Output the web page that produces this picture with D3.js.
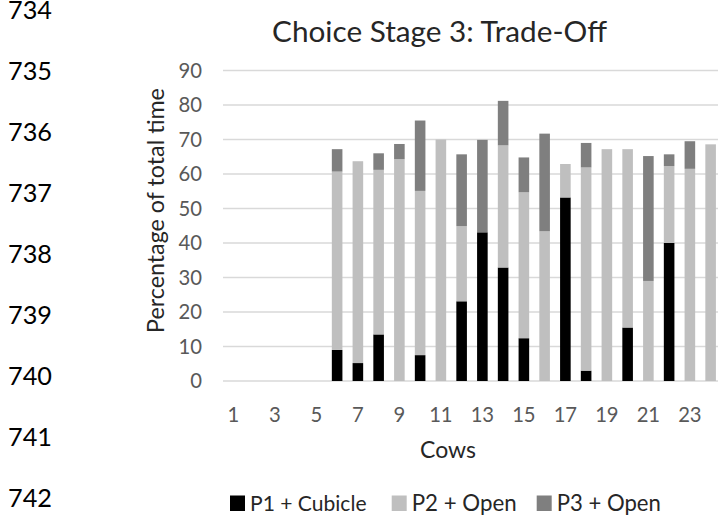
<!DOCTYPE html>
<html>
<head>
<meta charset="utf-8">
<script src="https://cdn.jsdelivr.net/npm/d3@7"></script>
<style>
  html, body { margin: 0; padding: 0; background: #fff; }
  svg { display: block; font-family: Lato, "Open Sans", sans-serif; }
</style>
</head>
<body>
<svg id="chart" width="718" height="520"></svg>
<script>
// ---- data ----
const cows = d3.range(1, 25);
const p1Cubicle = [0,0,0,0,0, 9.0, 5.2, 13.5, 0, 7.5, 0, 23.1, 43.1, 32.9, 12.4, 0, 53.2, 3.0, 0, 15.5, 0, 40.0, 0, 0];
const p2Open    = [0,0,0,0,0, 51.7, 58.5, 47.7, 64.3, 47.6, 70.0, 21.8, 0, 35.4, 42.3, 43.4, 9.7, 58.9, 67.2, 51.7, 29.0, 22.3, 61.5, 68.6];
const p3Open    = [0,0,0,0,0, 6.5, 0, 4.8, 4.4, 20.4, 0, 20.8, 26.8, 12.9, 10.1, 28.3, 0, 7.1, 0, 0, 36.2, 3.4, 8.0, 0];
const seriesNames = ["P1 + Cubicle", "P2 + Open", "P3 + Open"];
const yTicks = [0, 10, 20, 30, 40, 50, 60, 70, 80, 90];
const xTickLabels = [1, 3, 5, 7, 9, 11, 13, 15, 17, 19, 21, 23];
const lineNumbers = [734, 735, 736, 737, 738, 739, 740, 741, 742];
const titleText = "Choice Stage 3: Trade-Off";
const yTitle = "Percentage of total time";
const xTitle = "Cows";

// ---- layout ----
const svg = d3.select("#chart");
const colors = ["#000000", "#bfbfbf", "#7f7f7f"];
const plot = { left: 223, right: 721, top: 70.5, bottom: 381 };

const x = d3.scaleBand().domain(cows).range([plot.left, plot.right])
  .paddingInner(0.49).paddingOuter(0.245);
const y = d3.scaleLinear().domain([0, 90]).range([plot.bottom, plot.top]);

function fit(sel, target) {
  sel.attr("font-size", 100);
  const w = sel.node().getComputedTextLength();
  const s = 100 * target / w;
  sel.attr("font-size", s);
  return s;
}

// line numbers
const lnScale = d3.scaleLinear().domain([734, 742]).range([18.5, 507]);
const lnG = svg.append("g");
const lnTexts = lnG.selectAll("text").data(lineNumbers).join("text")
  .attr("x", 8).attr("y", d => lnScale(d)).attr("fill", "#000")
  .text(d => d);
const lnSize = fit(d3.select(lnTexts.nodes()[0]), 44);
lnTexts.attr("font-size", lnSize);

// gridlines
svg.append("g").selectAll("line").data(yTicks).join("line")
  .attr("x1", plot.left).attr("x2", plot.right)
  .attr("y1", d => y(d)).attr("y2", d => y(d))
  .attr("stroke", "#d9d9d9").attr("stroke-width", 1.5);

// stacked bars
const table = cows.map((c, i) => ({ cow: c, p1: p1Cubicle[i], p2: p2Open[i], p3: p3Open[i] }));
const stack = d3.stack().keys(["p1", "p2", "p3"])(table);
svg.append("g").selectAll("g").data(stack).join("g")
  .attr("fill", (d, i) => colors[i])
  .selectAll("rect").data(d => d).join("rect")
  .attr("x", d => x(d.data.cow))
  .attr("width", x.bandwidth())
  .attr("y", d => y(d[1]))
  .attr("height", d => Math.max(0, y(d[0]) - y(d[1])));

// y tick labels
const yt = svg.append("g").selectAll("text").data(yTicks).join("text")
  .attr("x", 202).attr("y", d => y(d) + 7)
  .attr("text-anchor", "end").attr("fill", "#595959")
  .text(d => d);
// x tick labels
const xt = svg.append("g").selectAll("text").data(xTickLabels).join("text")
  .attr("x", d => x(d) + x.bandwidth() / 2).attr("y", 421.5)
  .attr("text-anchor", "middle").attr("fill", "#595959")
  .text(d => d);
const tickSize = fit(d3.select(xt.nodes()[5]), 23.5);
yt.attr("font-size", tickSize);
xt.attr("font-size", tickSize);

// title
const t = svg.append("text").attr("x", 439.5).attr("y", 42)
  .attr("text-anchor", "middle").attr("fill", "#262626").text(titleText);
fit(t, 335);

// y title
const yl = svg.append("text")
  .attr("transform", "translate(164,210.5) rotate(-90)")
  .attr("text-anchor", "middle").attr("fill", "#262626").text(yTitle);
fit(yl, 245);

// x title
const xl = svg.append("text").attr("x", 448).attr("y", 458.3)
  .attr("text-anchor", "middle").attr("fill", "#262626").text(xTitle);
fit(xl, 56);

// legend
const legendX = [230, 391.7, 536.7];
const legendW = [116.6, 105, 104.3];
const lg = svg.append("g").selectAll("g").data(seriesNames).join("g")
  .attr("transform", (d, i) => `translate(${legendX[i]},0)`);
lg.append("rect").attr("x", 0).attr("y", 495.5).attr("width", 15).attr("height", 15.5)
  .attr("fill", (d, i) => colors[i]);
lg.append("text").attr("x", 20).attr("y", 510.7).attr("fill", "#262626")
  .text(d => d)
  .each(function(d, i) { fit(d3.select(this), legendW[i]); });
</script>
</body>
</html>
